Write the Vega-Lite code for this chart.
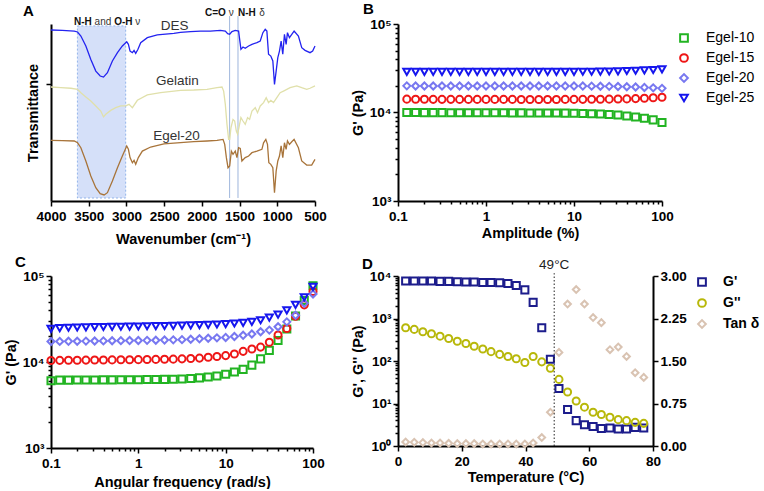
{
"$schema": "https://vega.github.io/schema/vega-lite/v6.json",
"padding": {"left": 3, "top": 2, "right": 0, "bottom": 0},
"background": "white",
"columns": 2,
"bounds": "flush",
"spacing": {"row": 75, "column": 83},
"resolve": {"scale": {"color": "independent", "shape": "independent"}, "legend": {"color": "independent", "shape": "independent"}},
"config": {
  "font": "Liberation Sans",
  "view": {"stroke": null},
  "point": {"opacity": 1},
  "axis": {"domainColor": "#000", "domainWidth": 2, "tickColor": "#000", "tickWidth": 1.5, "tickSize": 5, "labelFont": "Liberation Sans", "labelFontSize": 13.5, "labelFontWeight": "bold", "labelColor": "#000", "titleFont": "Liberation Sans", "titleFontSize": 14.5, "titleFontWeight": "bold", "titleColor": "#000", "grid": false, "labelFlush": false, "labelOverlap": false, "labelBound": false, "labelPadding": 3},
  "axisX": {"titlePadding": 6},
  "axisY": {"labelPadding": 2, "titlePadding": 4},
  "title": {"fontSize": 15, "fontWeight": "bold", "anchor": "start", "frame": "group", "color": "#000", "offset": 0, "font": "Liberation Sans"}
},
"datasets": {
  "a_band": [{"wn": 3650, "wn2": 3010, "t": 1.7, "t2": 98.9}],
  "a_lines": [{"wn": 1632, "t": 1.7, "t2": 104.5}, {"wn": 1521, "t": 1.7, "t2": 104.5}],
  "a_bold": [{"wn": 3695, "t": 101.1, "label": "N-H"}, {"wn": 3163, "t": 101.1, "label": "O-H"}, {"wn": 1958, "t": 106.2, "label": "C=O"}, {"wn": 1521, "t": 106.2, "label": "N-H"}],
  "a_reg": [{"wn": 3422, "t": 101.1, "label": "and"}, {"wn": 2884, "t": 101.1, "label": "ν"}, {"wn": 1645, "t": 106.2, "label": "ν"}, {"wn": 1240, "t": 106.2, "label": "δ"}],
  "a_names": [{"wn": 2362, "t": 98.9, "label": "DES"}, {"wn": 2323, "t": 67.8, "label": "Gelatin"}, {"wn": 2336, "t": 36.7, "label": "Egel-20"}],
  "ftir": [
    {"s":"DES","wn":4000,"t":96.6},{"s":"DES","wn":3850,"t":96.4},{"s":"DES","wn":3692,"t":96.0},{"s":"DES","wn":3648,"t":95.5},{"s":"DES","wn":3604,"t":93.2},{"s":"DES","wn":3538,"t":87.6},{"s":"DES","wn":3472,"t":80.0},{"s":"DES","wn":3406,"t":73.4},{"s":"DES","wn":3348,"t":70.6},{"s":"DES","wn":3304,"t":70.0},{"s":"DES","wn":3252,"t":72.5},{"s":"DES","wn":3186,"t":79.1},{"s":"DES","wn":3119,"t":83.8},{"s":"DES","wn":3054,"t":87.6},{"s":"DES","wn":2996,"t":90.0},{"s":"DES","wn":2974,"t":88.5},{"s":"DES","wn":2952,"t":84.7},{"s":"DES","wn":2921,"t":83.8},{"s":"DES","wn":2899,"t":85.1},{"s":"DES","wn":2877,"t":83.4},{"s":"DES","wn":2847,"t":85.7},{"s":"DES","wn":2811,"t":89.4},{"s":"DES","wn":2723,"t":92.3},{"s":"DES","wn":2591,"t":93.8},{"s":"DES","wn":2371,"t":94.7},{"s":"DES","wn":2283,"t":95.3},{"s":"DES","wn":2151,"t":95.7},{"s":"DES","wn":2019,"t":96.0},{"s":"DES","wn":1887,"t":96.0},{"s":"DES","wn":1755,"t":96.4},{"s":"DES","wn":1689,"t":96.0},{"s":"DES","wn":1658,"t":94.5},{"s":"DES","wn":1631,"t":94.2},{"s":"DES","wn":1601,"t":95.7},{"s":"DES","wn":1557,"t":96.4},{"s":"DES","wn":1513,"t":96.0},{"s":"DES","wn":1499,"t":91.3},{"s":"DES","wn":1482,"t":85.7},{"s":"DES","wn":1455,"t":87.0},{"s":"DES","wn":1425,"t":86.3},{"s":"DES","wn":1380,"t":87.6},{"s":"DES","wn":1336,"t":88.5},{"s":"DES","wn":1270,"t":89.5},{"s":"DES","wn":1226,"t":90.4},{"s":"DES","wn":1191,"t":95.1},{"s":"DES","wn":1160,"t":97.0},{"s":"DES","wn":1138,"t":96.0},{"s":"DES","wn":1116,"t":82.9},{"s":"DES","wn":1086,"t":81.9},{"s":"DES","wn":1059,"t":79.1},{"s":"DES","wn":1037,"t":65.9},{"s":"DES","wn":1015,"t":73.4},{"s":"DES","wn":993,"t":81.0},{"s":"DES","wn":971,"t":84.7},{"s":"DES","wn":949,"t":90.4},{"s":"DES","wn":927,"t":82.9},{"s":"DES","wn":905,"t":94.2},{"s":"DES","wn":883,"t":88.5},{"s":"DES","wn":865,"t":95.1},{"s":"DES","wn":839,"t":92.3},{"s":"DES","wn":808,"t":94.2},{"s":"DES","wn":777,"t":96.0},{"s":"DES","wn":720,"t":93.2},{"s":"DES","wn":676,"t":86.6},{"s":"DES","wn":632,"t":85.1},{"s":"DES","wn":566,"t":83.8},{"s":"DES","wn":531,"t":84.7},{"s":"DES","wn":500,"t":87.6},
    {"s":"Gelatin","wn":4000,"t":64.4},{"s":"Gelatin","wn":3868,"t":64.0},{"s":"Gelatin","wn":3736,"t":63.7},{"s":"Gelatin","wn":3648,"t":63.1},{"s":"Gelatin","wn":3604,"t":61.2},{"s":"Gelatin","wn":3538,"t":58.8},{"s":"Gelatin","wn":3472,"t":56.5},{"s":"Gelatin","wn":3406,"t":53.7},{"s":"Gelatin","wn":3340,"t":50.8},{"s":"Gelatin","wn":3304,"t":47.5},{"s":"Gelatin","wn":3274,"t":49.0},{"s":"Gelatin","wn":3208,"t":51.2},{"s":"Gelatin","wn":3142,"t":52.7},{"s":"Gelatin","wn":3075,"t":53.7},{"s":"Gelatin","wn":3010,"t":53.7},{"s":"Gelatin","wn":2966,"t":54.6},{"s":"Gelatin","wn":2921,"t":52.7},{"s":"Gelatin","wn":2855,"t":56.9},{"s":"Gelatin","wn":2723,"t":59.9},{"s":"Gelatin","wn":2547,"t":61.2},{"s":"Gelatin","wn":2283,"t":62.5},{"s":"Gelatin","wn":2107,"t":62.7},{"s":"Gelatin","wn":1931,"t":63.1},{"s":"Gelatin","wn":1799,"t":64.0},{"s":"Gelatin","wn":1733,"t":64.4},{"s":"Gelatin","wn":1711,"t":62.1},{"s":"Gelatin","wn":1689,"t":54.6},{"s":"Gelatin","wn":1667,"t":43.3},{"s":"Gelatin","wn":1645,"t":34.8},{"s":"Gelatin","wn":1631,"t":34.8},{"s":"Gelatin","wn":1614,"t":41.4},{"s":"Gelatin","wn":1587,"t":46.1},{"s":"Gelatin","wn":1565,"t":45.2},{"s":"Gelatin","wn":1543,"t":39.5},{"s":"Gelatin","wn":1526,"t":37.7},{"s":"Gelatin","wn":1504,"t":42.4},{"s":"Gelatin","wn":1482,"t":47.1},{"s":"Gelatin","wn":1455,"t":45.2},{"s":"Gelatin","wn":1425,"t":43.3},{"s":"Gelatin","wn":1394,"t":47.1},{"s":"Gelatin","wn":1367,"t":46.1},{"s":"Gelatin","wn":1336,"t":50.8},{"s":"Gelatin","wn":1292,"t":52.7},{"s":"Gelatin","wn":1262,"t":49.9},{"s":"Gelatin","wn":1226,"t":53.7},{"s":"Gelatin","wn":1182,"t":55.6},{"s":"Gelatin","wn":1147,"t":58.4},{"s":"Gelatin","wn":1116,"t":55.6},{"s":"Gelatin","wn":1086,"t":56.9},{"s":"Gelatin","wn":1050,"t":55.6},{"s":"Gelatin","wn":1006,"t":58.4},{"s":"Gelatin","wn":962,"t":61.2},{"s":"Gelatin","wn":918,"t":62.1},{"s":"Gelatin","wn":830,"t":64.0},{"s":"Gelatin","wn":742,"t":65.0},{"s":"Gelatin","wn":676,"t":64.0},{"s":"Gelatin","wn":610,"t":63.1},{"s":"Gelatin","wn":566,"t":63.7},{"s":"Gelatin","wn":500,"t":65.0},
    {"s":"Egel-20","wn":4000,"t":34.3},{"s":"Egel-20","wn":3850,"t":34.1},{"s":"Egel-20","wn":3692,"t":33.9},{"s":"Egel-20","wn":3648,"t":32.9},{"s":"Egel-20","wn":3604,"t":30.1},{"s":"Egel-20","wn":3538,"t":22.6},{"s":"Egel-20","wn":3472,"t":14.1},{"s":"Egel-20","wn":3406,"t":7.5},{"s":"Egel-20","wn":3348,"t":4.1},{"s":"Egel-20","wn":3296,"t":3.4},{"s":"Egel-20","wn":3252,"t":4.7},{"s":"Egel-20","wn":3186,"t":11.3},{"s":"Egel-20","wn":3119,"t":18.8},{"s":"Egel-20","wn":3054,"t":25.4},{"s":"Egel-20","wn":2996,"t":31.1},{"s":"Egel-20","wn":2974,"t":29.2},{"s":"Egel-20","wn":2952,"t":24.5},{"s":"Egel-20","wn":2921,"t":21.6},{"s":"Egel-20","wn":2899,"t":23.0},{"s":"Egel-20","wn":2877,"t":20.7},{"s":"Egel-20","wn":2842,"t":24.5},{"s":"Egel-20","wn":2789,"t":28.2},{"s":"Egel-20","wn":2679,"t":30.5},{"s":"Egel-20","wn":2503,"t":32.3},{"s":"Egel-20","wn":2283,"t":33.0},{"s":"Egel-20","wn":2107,"t":33.5},{"s":"Egel-20","wn":1931,"t":33.9},{"s":"Egel-20","wn":1799,"t":34.3},{"s":"Egel-20","wn":1719,"t":34.8},{"s":"Egel-20","wn":1697,"t":32.0},{"s":"Egel-20","wn":1675,"t":24.5},{"s":"Egel-20","wn":1653,"t":18.8},{"s":"Egel-20","wn":1631,"t":19.8},{"s":"Egel-20","wn":1609,"t":28.2},{"s":"Egel-20","wn":1587,"t":26.4},{"s":"Egel-20","wn":1557,"t":28.2},{"s":"Egel-20","wn":1535,"t":24.5},{"s":"Egel-20","wn":1513,"t":30.1},{"s":"Egel-20","wn":1491,"t":29.7},{"s":"Egel-20","wn":1469,"t":22.6},{"s":"Egel-20","wn":1425,"t":24.5},{"s":"Egel-20","wn":1380,"t":25.4},{"s":"Egel-20","wn":1336,"t":27.3},{"s":"Egel-20","wn":1270,"t":28.2},{"s":"Egel-20","wn":1204,"t":29.2},{"s":"Egel-20","wn":1182,"t":32.9},{"s":"Egel-20","wn":1152,"t":34.8},{"s":"Egel-20","wn":1130,"t":32.0},{"s":"Egel-20","wn":1112,"t":21.6},{"s":"Egel-20","wn":1086,"t":20.7},{"s":"Egel-20","wn":1059,"t":18.8},{"s":"Egel-20","wn":1037,"t":4.7},{"s":"Egel-20","wn":1015,"t":16.9},{"s":"Egel-20","wn":993,"t":22.6},{"s":"Egel-20","wn":971,"t":25.4},{"s":"Egel-20","wn":949,"t":31.1},{"s":"Egel-20","wn":927,"t":24.5},{"s":"Egel-20","wn":905,"t":32.9},{"s":"Egel-20","wn":883,"t":29.2},{"s":"Egel-20","wn":865,"t":33.9},{"s":"Egel-20","wn":839,"t":32.0},{"s":"Egel-20","wn":808,"t":33.5},{"s":"Egel-20","wn":777,"t":34.8},{"s":"Egel-20","wn":720,"t":30.1},{"s":"Egel-20","wn":676,"t":22.6},{"s":"Egel-20","wn":610,"t":20.3},{"s":"Egel-20","wn":544,"t":20.3},{"s":"Egel-20","wn":500,"t":23.5}
  ],
  "amp": [
    {"s":"Egel-10","a":0.1259,"g":10000},{"s":"Egel-10","a":0.1585,"g":9980},{"s":"Egel-10","a":0.1995,"g":9970},{"s":"Egel-10","a":0.2512,"g":9960},{"s":"Egel-10","a":0.3162,"g":9960},{"s":"Egel-10","a":0.3981,"g":9950},{"s":"Egel-10","a":0.5012,"g":9950},{"s":"Egel-10","a":0.631,"g":9940},{"s":"Egel-10","a":0.7943,"g":9940},{"s":"Egel-10","a":1,"g":9930},{"s":"Egel-10","a":1.259,"g":9930},{"s":"Egel-10","a":1.585,"g":9920},{"s":"Egel-10","a":1.995,"g":9910},{"s":"Egel-10","a":2.512,"g":9900},{"s":"Egel-10","a":3.162,"g":9890},{"s":"Egel-10","a":3.981,"g":9880},{"s":"Egel-10","a":5.012,"g":9870},{"s":"Egel-10","a":6.31,"g":9850},{"s":"Egel-10","a":7.943,"g":9830},{"s":"Egel-10","a":10,"g":9800},{"s":"Egel-10","a":12.59,"g":9760},{"s":"Egel-10","a":15.85,"g":9700},{"s":"Egel-10","a":19.95,"g":9620},{"s":"Egel-10","a":25.12,"g":9500},{"s":"Egel-10","a":31.62,"g":9350},{"s":"Egel-10","a":39.81,"g":9150},{"s":"Egel-10","a":50.12,"g":8900},{"s":"Egel-10","a":63.1,"g":8620},{"s":"Egel-10","a":79.43,"g":8250},{"s":"Egel-10","a":100,"g":7700},
    {"s":"Egel-15","a":0.1259,"g":14150},{"s":"Egel-15","a":0.1585,"g":14100},{"s":"Egel-15","a":0.1995,"g":14100},{"s":"Egel-15","a":0.2512,"g":14080},{"s":"Egel-15","a":0.3162,"g":14080},{"s":"Egel-15","a":0.3981,"g":14080},{"s":"Egel-15","a":0.5012,"g":14070},{"s":"Egel-15","a":0.631,"g":14070},{"s":"Egel-15","a":0.7943,"g":14070},{"s":"Egel-15","a":1,"g":14060},{"s":"Egel-15","a":1.259,"g":14060},{"s":"Egel-15","a":1.585,"g":14060},{"s":"Egel-15","a":1.995,"g":14060},{"s":"Egel-15","a":2.512,"g":14050},{"s":"Egel-15","a":3.162,"g":14050},{"s":"Egel-15","a":3.981,"g":14050},{"s":"Egel-15","a":5.012,"g":14050},{"s":"Egel-15","a":6.31,"g":14050},{"s":"Egel-15","a":7.943,"g":14060},{"s":"Egel-15","a":10,"g":14060},{"s":"Egel-15","a":12.59,"g":14080},{"s":"Egel-15","a":15.85,"g":14100},{"s":"Egel-15","a":19.95,"g":14120},{"s":"Egel-15","a":25.12,"g":14150},{"s":"Egel-15","a":31.62,"g":14200},{"s":"Egel-15","a":39.81,"g":14250},{"s":"Egel-15","a":50.12,"g":14350},{"s":"Egel-15","a":63.1,"g":14500},{"s":"Egel-15","a":79.43,"g":14650},{"s":"Egel-15","a":100,"g":14850},
    {"s":"Egel-20","a":0.1259,"g":20000},{"s":"Egel-20","a":0.1585,"g":19950},{"s":"Egel-20","a":0.1995,"g":19950},{"s":"Egel-20","a":0.2512,"g":19950},{"s":"Egel-20","a":0.3162,"g":19950},{"s":"Egel-20","a":0.3981,"g":19950},{"s":"Egel-20","a":0.5012,"g":19950},{"s":"Egel-20","a":0.631,"g":19950},{"s":"Egel-20","a":0.7943,"g":19950},{"s":"Egel-20","a":1,"g":19950},{"s":"Egel-20","a":1.259,"g":19950},{"s":"Egel-20","a":1.585,"g":19950},{"s":"Egel-20","a":1.995,"g":19950},{"s":"Egel-20","a":2.512,"g":19950},{"s":"Egel-20","a":3.162,"g":19950},{"s":"Egel-20","a":3.981,"g":19950},{"s":"Egel-20","a":5.012,"g":19950},{"s":"Egel-20","a":6.31,"g":19950},{"s":"Egel-20","a":7.943,"g":19900},{"s":"Egel-20","a":10,"g":19900},{"s":"Egel-20","a":12.59,"g":19900},{"s":"Egel-20","a":15.85,"g":19850},{"s":"Egel-20","a":19.95,"g":19800},{"s":"Egel-20","a":25.12,"g":19750},{"s":"Egel-20","a":31.62,"g":19650},{"s":"Egel-20","a":39.81,"g":19550},{"s":"Egel-20","a":50.12,"g":19400},{"s":"Egel-20","a":63.1,"g":19200},{"s":"Egel-20","a":79.43,"g":19000},{"s":"Egel-20","a":100,"g":18750},
    {"s":"Egel-25","a":0.1259,"g":28800},{"s":"Egel-25","a":0.1585,"g":28800},{"s":"Egel-25","a":0.1995,"g":28800},{"s":"Egel-25","a":0.2512,"g":28800},{"s":"Egel-25","a":0.3162,"g":28800},{"s":"Egel-25","a":0.3981,"g":28800},{"s":"Egel-25","a":0.5012,"g":28800},{"s":"Egel-25","a":0.631,"g":28800},{"s":"Egel-25","a":0.7943,"g":28800},{"s":"Egel-25","a":1,"g":28800},{"s":"Egel-25","a":1.259,"g":28800},{"s":"Egel-25","a":1.585,"g":28800},{"s":"Egel-25","a":1.995,"g":28800},{"s":"Egel-25","a":2.512,"g":28800},{"s":"Egel-25","a":3.162,"g":28800},{"s":"Egel-25","a":3.981,"g":28800},{"s":"Egel-25","a":5.012,"g":28800},{"s":"Egel-25","a":6.31,"g":28800},{"s":"Egel-25","a":7.943,"g":28800},{"s":"Egel-25","a":10,"g":28800},{"s":"Egel-25","a":12.59,"g":28850},{"s":"Egel-25","a":15.85,"g":28900},{"s":"Egel-25","a":19.95,"g":29000},{"s":"Egel-25","a":25.12,"g":29100},{"s":"Egel-25","a":31.62,"g":29200},{"s":"Egel-25","a":39.81,"g":29400},{"s":"Egel-25","a":50.12,"g":29600},{"s":"Egel-25","a":63.1,"g":29900},{"s":"Egel-25","a":79.43,"g":30200},{"s":"Egel-25","a":100,"g":30700}
  ],
  "freq": [
    {"s":"Egel-10","w":0.1,"g":6050},{"s":"Egel-10","w":0.1259,"g":6150},{"s":"Egel-10","w":0.1585,"g":6150},{"s":"Egel-10","w":0.1995,"g":6170},{"s":"Egel-10","w":0.2512,"g":6180},{"s":"Egel-10","w":0.3162,"g":6190},{"s":"Egel-10","w":0.3981,"g":6200},{"s":"Egel-10","w":0.5012,"g":6200},{"s":"Egel-10","w":0.631,"g":6210},{"s":"Egel-10","w":0.7943,"g":6220},{"s":"Egel-10","w":1,"g":6230},{"s":"Egel-10","w":1.259,"g":6250},{"s":"Egel-10","w":1.585,"g":6260},{"s":"Egel-10","w":1.995,"g":6280},{"s":"Egel-10","w":2.512,"g":6300},{"s":"Egel-10","w":3.162,"g":6350},{"s":"Egel-10","w":3.981,"g":6420},{"s":"Egel-10","w":5.012,"g":6540},{"s":"Egel-10","w":6.31,"g":6700},{"s":"Egel-10","w":7.943,"g":6890},{"s":"Egel-10","w":10,"g":7200},{"s":"Egel-10","w":12.59,"g":7650},{"s":"Egel-10","w":15.85,"g":8210},{"s":"Egel-10","w":19.95,"g":9200},{"s":"Egel-10","w":25.12,"g":10870},{"s":"Egel-10","w":31.62,"g":13650},{"s":"Egel-10","w":39.81,"g":17770},{"s":"Egel-10","w":50.12,"g":24150},{"s":"Egel-10","w":63.1,"g":34300},{"s":"Egel-10","w":79.43,"g":51800},{"s":"Egel-10","w":100,"g":76900},
    {"s":"Egel-15","w":0.1,"g":10400},{"s":"Egel-15","w":0.1259,"g":10450},{"s":"Egel-15","w":0.1585,"g":10500},{"s":"Egel-15","w":0.1995,"g":10500},{"s":"Egel-15","w":0.2512,"g":10520},{"s":"Egel-15","w":0.3162,"g":10540},{"s":"Egel-15","w":0.3981,"g":10560},{"s":"Egel-15","w":0.5012,"g":10580},{"s":"Egel-15","w":0.631,"g":10600},{"s":"Egel-15","w":0.7943,"g":10620},{"s":"Egel-15","w":1,"g":10650},{"s":"Egel-15","w":1.259,"g":10680},{"s":"Egel-15","w":1.585,"g":10720},{"s":"Egel-15","w":1.995,"g":10760},{"s":"Egel-15","w":2.512,"g":10800},{"s":"Egel-15","w":3.162,"g":10880},{"s":"Egel-15","w":3.981,"g":10970},{"s":"Egel-15","w":5.012,"g":11100},{"s":"Egel-15","w":6.31,"g":11360},{"s":"Egel-15","w":7.943,"g":11600},{"s":"Egel-15","w":10,"g":11870},{"s":"Egel-15","w":12.59,"g":12400},{"s":"Egel-15","w":15.85,"g":13300},{"s":"Egel-15","w":19.95,"g":14140},{"s":"Egel-15","w":25.12,"g":14900},{"s":"Egel-15","w":31.62,"g":17000},{"s":"Egel-15","w":39.81,"g":20600},{"s":"Egel-15","w":50.12,"g":24550},{"s":"Egel-15","w":63.1,"g":34000},{"s":"Egel-15","w":79.43,"g":46200},{"s":"Egel-15","w":100,"g":66200},
    {"s":"Egel-20","w":0.1,"g":17300},{"s":"Egel-20","w":0.1259,"g":17350},{"s":"Egel-20","w":0.1585,"g":17400},{"s":"Egel-20","w":0.1995,"g":17450},{"s":"Egel-20","w":0.2512,"g":17500},{"s":"Egel-20","w":0.3162,"g":17550},{"s":"Egel-20","w":0.3981,"g":17600},{"s":"Egel-20","w":0.5012,"g":17650},{"s":"Egel-20","w":0.631,"g":17700},{"s":"Egel-20","w":0.7943,"g":17750},{"s":"Egel-20","w":1,"g":17800},{"s":"Egel-20","w":1.259,"g":17850},{"s":"Egel-20","w":1.585,"g":17900},{"s":"Egel-20","w":1.995,"g":18000},{"s":"Egel-20","w":2.512,"g":18100},{"s":"Egel-20","w":3.162,"g":18200},{"s":"Egel-20","w":3.981,"g":18400},{"s":"Egel-20","w":5.012,"g":18600},{"s":"Egel-20","w":6.31,"g":18900},{"s":"Egel-20","w":7.943,"g":19100},{"s":"Egel-20","w":10,"g":19300},{"s":"Egel-20","w":12.59,"g":19800},{"s":"Egel-20","w":15.85,"g":20440},{"s":"Egel-20","w":19.95,"g":21170},{"s":"Egel-20","w":25.12,"g":22500},{"s":"Egel-20","w":31.62,"g":23500},{"s":"Egel-20","w":39.81,"g":25700},{"s":"Egel-20","w":50.12,"g":29300},{"s":"Egel-20","w":63.1,"g":34900},{"s":"Egel-20","w":79.43,"g":48300},{"s":"Egel-20","w":100,"g":61700},
    {"s":"Egel-25","w":0.1,"g":24300},{"s":"Egel-25","w":0.1259,"g":24800},{"s":"Egel-25","w":0.1585,"g":25000},{"s":"Egel-25","w":0.1995,"g":25200},{"s":"Egel-25","w":0.2512,"g":25300},{"s":"Egel-25","w":0.3162,"g":25400},{"s":"Egel-25","w":0.3981,"g":25500},{"s":"Egel-25","w":0.5012,"g":25600},{"s":"Egel-25","w":0.631,"g":25700},{"s":"Egel-25","w":0.7943,"g":25800},{"s":"Egel-25","w":1,"g":25900},{"s":"Egel-25","w":1.259,"g":26000},{"s":"Egel-25","w":1.585,"g":26100},{"s":"Egel-25","w":1.995,"g":26200},{"s":"Egel-25","w":2.512,"g":26300},{"s":"Egel-25","w":3.162,"g":26500},{"s":"Egel-25","w":3.981,"g":26700},{"s":"Egel-25","w":5.012,"g":26800},{"s":"Egel-25","w":6.31,"g":27000},{"s":"Egel-25","w":7.943,"g":27300},{"s":"Egel-25","w":10,"g":27550},{"s":"Egel-25","w":12.59,"g":28000},{"s":"Egel-25","w":15.85,"g":28530},{"s":"Egel-25","w":19.95,"g":29300},{"s":"Egel-25","w":25.12,"g":30600},{"s":"Egel-25","w":31.62,"g":32850},{"s":"Egel-25","w":39.81,"g":35500},{"s":"Egel-25","w":50.12,"g":39800},{"s":"Egel-25","w":63.1,"g":46200},{"s":"Egel-25","w":79.43,"g":56500},{"s":"Egel-25","w":100,"g":74800}
  ],
  "dmod": [
    {"s":"G'","T":2.4,"g":7600},{"s":"G'","T":5.1,"g":7600},{"s":"G'","T":7.8,"g":7600},{"s":"G'","T":10.5,"g":7600},{"s":"G'","T":13.2,"g":7460},{"s":"G'","T":15.9,"g":7460},{"s":"G'","T":18.6,"g":7330},{"s":"G'","T":21.3,"g":7190},{"s":"G'","T":23.9,"g":7190},{"s":"G'","T":26.6,"g":7060},{"s":"G'","T":29.2,"g":7060},{"s":"G'","T":31.9,"g":6930},{"s":"G'","T":34.5,"g":6680},{"s":"G'","T":37.1,"g":5990},{"s":"G'","T":39.8,"g":4720},{"s":"G'","T":42.4,"g":2400},{"s":"G'","T":45.1,"g":607},{"s":"G'","T":47.8,"g":110},{"s":"G'","T":50.5,"g":22.5},{"s":"G'","T":53.2,"g":7.2},{"s":"G'","T":55.9,"g":3.95},{"s":"G'","T":58.5,"g":3.17},{"s":"G'","T":61.2,"g":2.89},{"s":"G'","T":63.8,"g":2.59},{"s":"G'","T":66.5,"g":2.64},{"s":"G'","T":69.1,"g":2.5},{"s":"G'","T":71.7,"g":2.5},{"s":"G'","T":74.4,"g":2.74},{"s":"G'","T":77.1,"g":2.64},
    {"s":"G''","T":2.4,"g":607},{"s":"G''","T":5.1,"g":554},{"s":"G''","T":7.8,"g":487},{"s":"G''","T":10.5,"g":437},{"s":"G''","T":13.2,"g":384},{"s":"G''","T":15.9,"g":338},{"s":"G''","T":18.6,"g":292},{"s":"G''","T":21.3,"g":257},{"s":"G''","T":23.9,"g":222},{"s":"G''","T":26.6,"g":192},{"s":"G''","T":29.2,"g":166},{"s":"G''","T":31.9,"g":143},{"s":"G''","T":34.5,"g":128},{"s":"G''","T":37.1,"g":113},{"s":"G''","T":39.8,"g":92},{"s":"G''","T":42.4,"g":128},{"s":"G''","T":45.1,"g":95.5},{"s":"G''","T":47.8,"g":67.5},{"s":"G''","T":50.5,"g":36.9},{"s":"G''","T":53.2,"g":18.7},{"s":"G''","T":55.9,"g":11.4},{"s":"G''","T":58.5,"g":8.2},{"s":"G''","T":61.2,"g":6.24},{"s":"G''","T":63.8,"g":5.49},{"s":"G''","T":66.5,"g":4.74},{"s":"G''","T":69.1,"g":4.17},{"s":"G''","T":71.7,"g":3.95},{"s":"G''","T":74.4,"g":3.6},{"s":"G''","T":77.1,"g":3.41}
  ],
  "dtan": [
    {"s":"Tan δ","T":2.4,"tan":0.072},{"s":"Tan δ","T":5.1,"tan":0.066},{"s":"Tan δ","T":7.8,"tan":0.06},{"s":"Tan δ","T":10.5,"tan":0.054},{"s":"Tan δ","T":13.2,"tan":0.054},{"s":"Tan δ","T":15.9,"tan":0.048},{"s":"Tan δ","T":18.6,"tan":0.042},{"s":"Tan δ","T":21.3,"tan":0.042},{"s":"Tan δ","T":23.9,"tan":0.042},{"s":"Tan δ","T":26.6,"tan":0.036},{"s":"Tan δ","T":29.2,"tan":0.036},{"s":"Tan δ","T":31.9,"tan":0.036},{"s":"Tan δ","T":34.5,"tan":0.036},{"s":"Tan δ","T":37.1,"tan":0.036},{"s":"Tan δ","T":39.8,"tan":0.036},{"s":"Tan δ","T":42.4,"tan":0.054},{"s":"Tan δ","T":45.1,"tan":0.149},{"s":"Tan δ","T":47.8,"tan":0.596},{"s":"Tan δ","T":50.5,"tan":1.652},{"s":"Tan δ","T":53.2,"tan":2.505},{"s":"Tan δ","T":55.9,"tan":2.761},{"s":"Tan δ","T":58.5,"tan":2.505},{"s":"Tan δ","T":61.2,"tan":2.266},{"s":"Tan δ","T":63.8,"tan":2.177},{"s":"Tan δ","T":66.5,"tan":1.7},{"s":"Tan δ","T":69.1,"tan":1.747},{"s":"Tan δ","T":71.7,"tan":1.58},{"s":"Tan δ","T":74.4,"tan":1.294},{"s":"Tan δ","T":77.1,"tan":1.211}
  ],
  "dmark": [{"T": 49, "lo": 0, "hi": 3.05, "label": "49°C"}]
},
"concat": [
  {
    "width": 264, "height": 177,
    "title": {"text": "A", "dx": -28, "dy": 15},
    "encoding": {
      "x": {"field": "wn", "type": "quantitative", "scale": {"domain": [4000, 500], "nice": false, "zero": false}, "axis": {"values": [4000, 3500, 3000, 2500, 2000, 1500, 1000, 500], "format": "d", "title": "Wavenumber (cm⁻¹)", "titlePadding": 10}},
      "y": {"field": "t", "type": "quantitative", "scale": {"domain": [0, 100], "nice": false, "zero": false}, "axis": {"values": [66], "labels": false, "title": "Transmittance", "titlePadding": 5}}
    },
    "layer": [
      {"data": {"name": "a_band"}, "mark": {"type": "rect", "fill": "#d5e0f9", "stroke": "#93b4ea", "strokeDash": [2, 2], "strokeWidth": 1}, "encoding": {"x2": {"field": "wn2"}, "y2": {"field": "t2"}}},
      {"data": {"name": "a_lines"}, "mark": {"type": "rule", "color": "#9fb6dd", "strokeWidth": 1}, "encoding": {"y2": {"field": "t2"}}},
      {"data": {"name": "ftir"}, "mark": {"type": "line", "strokeWidth": 1.3}, "encoding": {"color": {"field": "s", "type": "nominal", "scale": {"domain": ["DES", "Gelatin", "Egel-20"], "range": ["#2323f0", "#e0e0aa", "#a8743a"]}, "legend": null}}},
      {"data": {"name": "a_bold"}, "mark": {"type": "text", "fontWeight": "bold", "fontSize": 10, "align": "left", "baseline": "middle", "color": "#111"}, "encoding": {"text": {"field": "label"}}},
      {"data": {"name": "a_reg"}, "mark": {"type": "text", "fontSize": 10, "align": "left", "baseline": "middle", "color": "#333"}, "encoding": {"text": {"field": "label"}}},
      {"data": {"name": "a_names"}, "mark": {"type": "text", "fontSize": 13.5, "align": "center", "baseline": "middle", "color": "#333"}, "encoding": {"text": {"field": "label"}}}
    ]
  },
  {
    "width": 264, "height": 177,
    "title": {"text": "B", "dx": -35, "dy": 4},
    "data": {"name": "amp"},
    "mark": {"type": "point", "filled": false, "strokeWidth": 2, "size": 50, "opacity": 1},
    "encoding": {
      "x": {"field": "a", "type": "quantitative", "scale": {"type": "log", "domain": [0.1, 100], "nice": false}, "axis": {"title": "Amplitude (%)", "titlePadding": 4, "values": [0.1,0.2,0.3,0.4,0.5,0.6,0.7,0.8,0.9,1,2,3,4,5,6,7,8,9,10,20,30,40,50,60,70,80,90,100], "labelExpr": "datum.value == 0.1 ? '0.1' : datum.value == 1 ? '1' : datum.value == 10 ? '10' : datum.value == 100 ? '100' : ''", "tickSize": {"condition": {"test": "datum.value == 0.1 || datum.value == 1 || datum.value == 10 || datum.value == 100", "value": 5}, "value": 3}}},
      "y": {"field": "g", "type": "quantitative", "scale": {"type": "log", "domain": [1000, 100000], "nice": false}, "axis": {"title": "G' (Pa)", "values": [1000,2000,3000,4000,5000,6000,7000,8000,9000,10000,20000,30000,40000,50000,60000,70000,80000,90000,100000], "labelExpr": "datum.value == 1000 ? '10³' : datum.value == 10000 ? '10⁴' : datum.value == 100000 ? '10⁵' : ''", "tickSize": {"condition": {"test": "datum.value == 1000 || datum.value == 10000 || datum.value == 100000", "value": 5}, "value": 3}}},
      "color": {"field": "s", "type": "nominal", "scale": {"domain": ["Egel-10", "Egel-15", "Egel-20", "Egel-25"], "range": ["#22b422", "#ee1616", "#7878f0", "#1616ee"]}, "legend": {"orient": "none", "legendX": 279, "legendY": 7, "title": null, "labelFontSize": 14, "labelColor": "#000", "symbolStrokeWidth": 2, "symbolSize": 60, "symbolOpacity": 1, "rowPadding": 4, "labelOffset": 15}},
      "shape": {"field": "s", "type": "nominal", "scale": {"domain": ["Egel-10", "Egel-15", "Egel-20", "Egel-25"], "range": ["square", "circle", "diamond", "triangle-down"]}, "legend": {"orient": "none", "legendX": 279, "legendY": 7, "title": null, "labelFontSize": 14, "labelColor": "#000", "symbolStrokeWidth": 2, "symbolSize": 60, "symbolOpacity": 1, "rowPadding": 4, "labelOffset": 15}}
    }
  },
  {
    "width": 262, "height": 172,
    "title": {"text": "C", "dx": -36, "dy": 5},
    "data": {"name": "freq"},
    "mark": {"type": "point", "filled": false, "strokeWidth": 2, "size": 50, "opacity": 1},
    "encoding": {
      "x": {"field": "w", "type": "quantitative", "scale": {"type": "log", "domain": [0.1, 100], "nice": false}, "axis": {"title": "Angular frequency (rad/s)", "values": [0.1,0.2,0.3,0.4,0.5,0.6,0.7,0.8,0.9,1,2,3,4,5,6,7,8,9,10,20,30,40,50,60,70,80,90,100], "labelExpr": "datum.value == 0.1 ? '0.1' : datum.value == 1 ? '1' : datum.value == 10 ? '10' : datum.value == 100 ? '100' : ''", "tickSize": {"condition": {"test": "datum.value == 0.1 || datum.value == 1 || datum.value == 10 || datum.value == 100", "value": 5}, "value": 3}}},
      "y": {"field": "g", "type": "quantitative", "scale": {"type": "log", "domain": [1000, 100000], "nice": false}, "axis": {"title": "G' (Pa)", "values": [1000,2000,3000,4000,5000,6000,7000,8000,9000,10000,20000,30000,40000,50000,60000,70000,80000,90000,100000], "labelExpr": "datum.value == 1000 ? '10³' : datum.value == 10000 ? '10⁴' : datum.value == 100000 ? '10⁵' : ''", "tickSize": {"condition": {"test": "datum.value == 1000 || datum.value == 10000 || datum.value == 100000", "value": 5}, "value": 3}}},
      "color": {"field": "s", "type": "nominal", "scale": {"domain": ["Egel-10", "Egel-15", "Egel-20", "Egel-25"], "range": ["#22b422", "#ee1616", "#7878f0", "#1616ee"]}, "legend": null},
      "shape": {"field": "s", "type": "nominal", "scale": {"domain": ["Egel-10", "Egel-15", "Egel-20", "Egel-25"], "range": ["square", "circle", "diamond", "triangle-down"]}, "legend": null}
    }
  },
  {
    "width": 255, "height": 170,
    "title": {"text": "D", "dx": -36, "dy": 18},
    "resolve": {"scale": {"y": "independent"}},
    "layer": [
      {
        "data": {"name": "dmod"},
        "mark": {"type": "point", "filled": false, "strokeWidth": 2, "size": 50, "opacity": 1},
        "encoding": {
          "x": {"field": "T", "type": "quantitative", "scale": {"domain": [0, 80], "nice": false}, "axis": {"values": [0, 20, 40, 60, 80], "title": "Temperature (°C)", "titlePadding": 3}},
          "y": {"field": "g", "type": "quantitative", "scale": {"type": "log", "domain": [1, 10000], "nice": false}, "axis": {"orient": "left", "title": "G', G'' (Pa)", "values": [1,2,3,4,5,6,7,8,9,10,20,30,40,50,60,70,80,90,100,200,300,400,500,600,700,800,900,1000,2000,3000,4000,5000,6000,7000,8000,9000,10000], "labelExpr": "datum.value == 1 ? '10⁰' : datum.value == 10 ? '10¹' : datum.value == 100 ? '10²' : datum.value == 1000 ? '10³' : datum.value == 10000 ? '10⁴' : ''", "tickSize": {"condition": {"test": "datum.value == 1 || datum.value == 10 || datum.value == 100 || datum.value == 1000 || datum.value == 10000", "value": 5}, "value": 3}}},
          "color": {"field": "s", "type": "nominal", "scale": {"domain": ["G'", "G''", "Tan δ"], "range": ["#1c1c8c", "#b8b80a", "#d9c3b2"]}, "legend": {"orient": "none", "legendX": 297, "legendY": -1, "title": null, "labelFontSize": 14, "labelFontWeight": "bold", "labelColor": "#000", "symbolStrokeWidth": 2, "symbolSize": 60, "symbolOpacity": 1, "rowPadding": 5, "labelOffset": 14}},
          "shape": {"field": "s", "type": "nominal", "scale": {"domain": ["G'", "G''", "Tan δ"], "range": ["square", "circle", "diamond"]}, "legend": {"orient": "none", "legendX": 297, "legendY": -1, "title": null, "labelFontSize": 14, "labelFontWeight": "bold", "labelColor": "#000", "symbolStrokeWidth": 2, "symbolSize": 60, "symbolOpacity": 1, "rowPadding": 5, "labelOffset": 14}}
        }
      },
      {
        "layer": [
          {
            "data": {"name": "dtan"},
            "mark": {"type": "point", "filled": false, "strokeWidth": 2, "size": 45, "opacity": 1},
            "encoding": {
              "x": {"field": "T", "type": "quantitative", "title": "Temperature (°C)"},
              "y": {"field": "tan", "type": "quantitative", "scale": {"domain": [0, 3], "nice": false, "zero": false}, "axis": {"orient": "right", "title": null, "values": [0, 0.375, 0.75, 1.125, 1.5, 1.875, 2.25, 2.625, 3], "labelExpr": "abs(datum.value / 0.75 - round(datum.value / 0.75)) < 0.001 ? format(datum.value, '.2f') : ''", "tickSize": {"condition": {"test": "abs(datum.value / 0.75 - round(datum.value / 0.75)) < 0.001", "value": 5}, "value": 3}}},
              "color": {"field": "s", "type": "nominal", "scale": {"domain": ["G'", "G''", "Tan δ"], "range": ["#1c1c8c", "#b8b80a", "#d9c3b2"]}},
              "shape": {"field": "s", "type": "nominal", "scale": {"domain": ["G'", "G''", "Tan δ"], "range": ["square", "circle", "diamond"]}}
            }
          },
          {
            "data": {"name": "dmark"},
            "mark": {"type": "rule", "color": "#222", "strokeWidth": 1, "strokeDash": [1.5, 2]},
            "encoding": {
              "x": {"field": "T", "type": "quantitative", "title": "Temperature (°C)"},
              "y": {"field": "lo", "type": "quantitative", "title": null},
              "y2": {"field": "hi"}
            }
          },
          {
            "data": {"name": "dmark"},
            "mark": {"type": "text", "fontSize": 13.5, "baseline": "bottom", "align": "center", "dy": -1, "color": "#222"},
            "encoding": {
              "x": {"field": "T", "type": "quantitative", "title": "Temperature (°C)"},
              "y": {"field": "hi", "type": "quantitative", "title": null},
              "text": {"field": "label"}
            }
          }
        ]
      }
    ]
  }
]
}
